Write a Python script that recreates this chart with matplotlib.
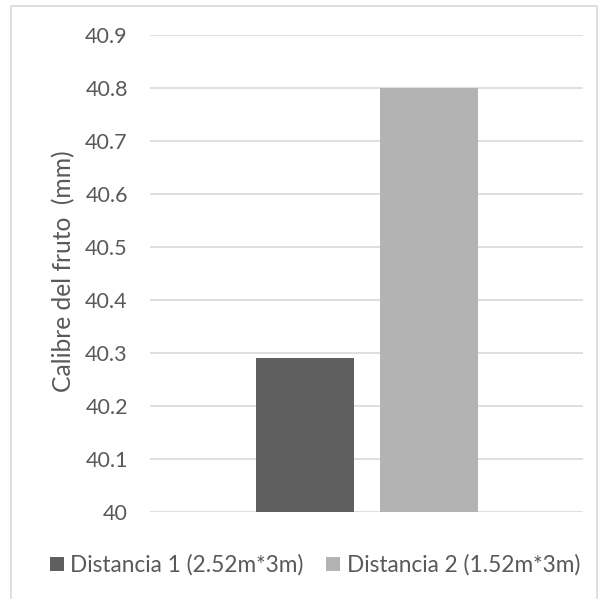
import matplotlib.pyplot as plt
from matplotlib.patches import Rectangle

series = ["Distancia 1 (2.52m*3m)", "Distancia 2 (1.52m*3m)"]
values = [40.29, 40.8]
colors = ["#5f5f5f", "#b3b3b3"]
yticks = [40, 40.1, 40.2, 40.3, 40.4, 40.5, 40.6, 40.7, 40.8, 40.9]
ylabel = "Calibre del fruto  (mm)"

plt.rcParams["font.family"] = ["Lato", "DejaVu Sans"]
text_color = "#595959"

fig = plt.figure(figsize=(5.98, 5.99), dpi=100)
ax = fig.add_axes([150 / 598, 1 - 512 / 599, 433 / 598, 477 / 599])

# outer chart border
fig.patches.append(Rectangle((11 / 598, -0.01), 586 / 598, 1 - 6 / 599 + 0.01,
                             transform=fig.transFigure, fill=False,
                             edgecolor="#d9d9d9", lw=1.2))

offsets = [-0.142, 0.144]
width = 0.226
for name, v, c, off in zip(series, values, colors, offsets):
    ax.bar(off, v - 40, bottom=40, width=width, color=c, label=name, zorder=3)

ax.set_xlim(-0.5, 0.5)
ax.set_ylim(40, 40.9)
ax.set_yticks(yticks)
ax.set_yticklabels([f"{t:g}" for t in yticks])
ax.set_xticks([])
ax.tick_params(axis="y", length=0, pad=16, labelsize=15.5, labelcolor=text_color)
ax.yaxis.grid(True, color="#d9d9d9", lw=1.2, zorder=0)
for s in ax.spines.values():
    s.set_visible(False)
ax.set_ylabel(ylabel, fontsize=17.7, color=text_color)
# label sits with its right edge around x=75 px
ax.yaxis.set_label_coords(-(150 - 75) / 433, 0.505)

fig.legend(loc="center", bbox_to_anchor=(315 / 598, 1 - 565 / 599), ncol=2,
           frameon=False, fontsize=16.3, labelcolor=text_color,
           handlelength=0.6, handleheight=0.6, handletextpad=0.3,
           columnspacing=1.0)

fig.savefig("out.png", dpi=100)
